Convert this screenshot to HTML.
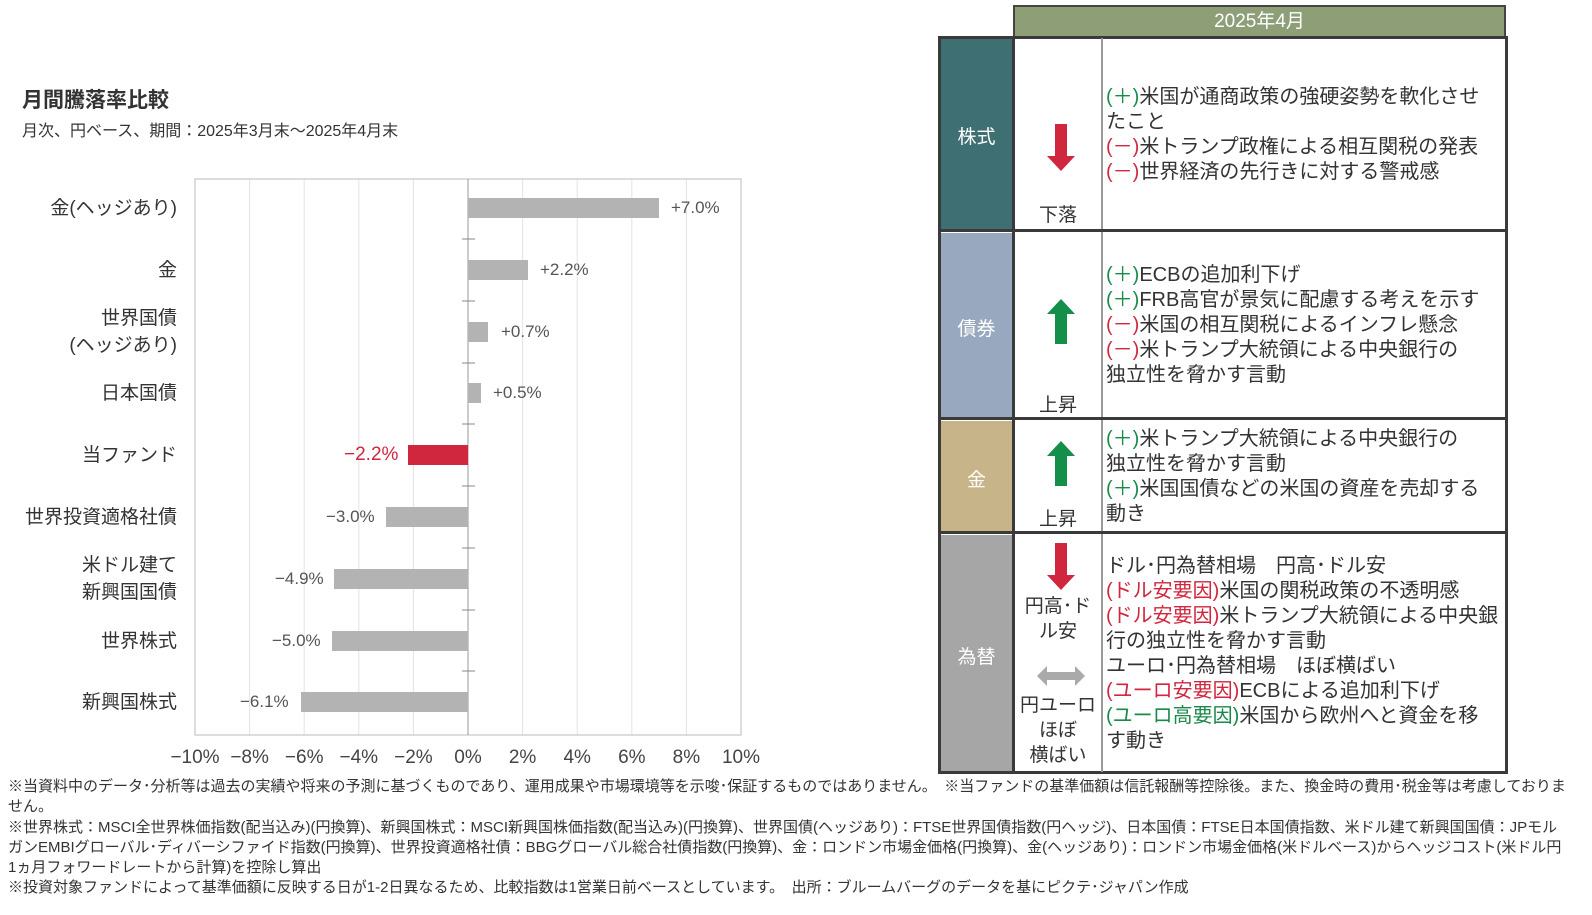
<!DOCTYPE html>
<html><head><meta charset="utf-8"><style>
body{margin:0;width:1592px;height:915px;background:#fff;position:relative;overflow:hidden;font-family:"Liberation Sans","Noto Sans CJK JP",sans-serif;color:#333}
.a{position:absolute;white-space:nowrap}
.lab{position:absolute;right:1415px;font-size:19px;text-align:right;line-height:27px;color:#333;white-space:nowrap}
.v{position:absolute;font-size:17px;color:#555;font-family:"Liberation Sans Narrow","Liberation Sans","Noto Sans CJK JP",sans-serif}
.bar{position:absolute;height:20px;background:#b3b3b3}
.tx{position:absolute;left:1106px;font-size:20px;line-height:25px;color:#333;white-space:nowrap}
.g{color:#1a8a4a}.r{color:#d0263e}
.fn{position:absolute;left:8px;font-size:15px;line-height:20.3px;color:#333;width:1560px}
</style></head><body>
<div class="a" style="left:22px;top:84px;font-size:21px;font-weight:bold;color:#333">月間騰落率比較</div>
<div class="a" style="left:22px;top:117px;font-size:16px">月次、円ベース、期間：2025年3月末～2025年4月末</div>

<svg class="a" style="left:0;top:0" width="780" height="780">
<g stroke="#e3e3e3" stroke-width="1">
<line x1="249.6" y1="179" x2="249.6" y2="735"/><line x1="304.2" y1="179" x2="304.2" y2="735"/><line x1="358.8" y1="179" x2="358.8" y2="735"/><line x1="413.4" y1="179" x2="413.4" y2="735"/><line x1="522.6" y1="179" x2="522.6" y2="735"/><line x1="577.2" y1="179" x2="577.2" y2="735"/><line x1="631.8" y1="179" x2="631.8" y2="735"/><line x1="686.4" y1="179" x2="686.4" y2="735"/>
</g>
<rect x="195" y="179" width="546" height="556" fill="none" stroke="#bbb"/>
<line x1="468" y1="179" x2="468" y2="735" stroke="#999"/>
<g stroke="#888"><line x1="462" y1="239" x2="475" y2="239"/><line x1="462" y1="301" x2="475" y2="301"/><line x1="462" y1="363" x2="475" y2="363"/><line x1="462" y1="424" x2="475" y2="424"/><line x1="462" y1="486" x2="475" y2="486"/><line x1="462" y1="548" x2="475" y2="548"/><line x1="462" y1="610" x2="475" y2="610"/><line x1="462" y1="671" x2="475" y2="671"/></g>
<g font-size="19" fill="#444" text-anchor="middle" font-family="Liberation Sans Narrow,Liberation Sans,sans-serif">
<text x="195" y="763">−10%</text><text x="249.6" y="763">−8%</text><text x="304.2" y="763">−6%</text><text x="358.8" y="763">−4%</text><text x="413.4" y="763">−2%</text><text x="468" y="763">0%</text><text x="522.6" y="763">2%</text><text x="577.2" y="763">4%</text><text x="631.8" y="763">6%</text><text x="686.4" y="763">8%</text><text x="741" y="763">10%</text>
</g>
</svg>

<div class="lab" style="top:195px">金(ヘッジあり)</div>
<div class="lab" style="top:257px">金</div>
<div class="lab" style="top:305px">世界国債<br>(ヘッジあり)</div>
<div class="lab" style="top:380px">日本国債</div>
<div class="lab" style="top:442px">当ファンド</div>
<div class="lab" style="top:504px">世界投資適格社債</div>
<div class="lab" style="top:552px">米ドル建て<br>新興国国債</div>
<div class="lab" style="top:628px">世界株式</div>
<div class="lab" style="top:689px">新興国株式</div>

<div class="bar" style="left:468px;top:198px;width:191px"></div><div class="v" style="left:671px;top:198px">+7.0%</div>
<div class="bar" style="left:468px;top:260px;width:60px"></div><div class="v" style="left:540px;top:260px">+2.2%</div>
<div class="bar" style="left:468px;top:322px;width:20px"></div><div class="v" style="left:501px;top:322px">+0.7%</div>
<div class="bar" style="left:468px;top:383px;width:13px"></div><div class="v" style="left:493px;top:383px">+0.5%</div>
<div class="bar" style="left:408px;top:445px;width:60px;background:#d0263e"></div><div class="v" style="left:344px;top:444px;color:#d0263e;font-size:19px">−2.2%</div>
<div class="bar" style="left:386px;top:507px;width:82px"></div><div class="v" style="left:326px;top:507px">−3.0%</div>
<div class="bar" style="left:334px;top:569px;width:134px"></div><div class="v" style="left:275px;top:569px">−4.9%</div>
<div class="bar" style="left:332px;top:631px;width:136px"></div><div class="v" style="left:272px;top:631px">−5.0%</div>
<div class="bar" style="left:301px;top:692px;width:167px"></div><div class="v" style="left:240px;top:692px">−6.1%</div>

<!-- table -->
<div class="a" style="left:1013px;top:5px;width:493px;height:32px;background:#8e9f78;border:2px solid #444;border-bottom:none;box-sizing:border-box;color:#fff;font-size:19px;text-align:center;line-height:30px">2025年4月</div>
<div class="a" style="left:938px;top:36px;width:570px;height:738px;border:3px solid #3a3a3a;box-sizing:border-box"></div>
<div class="a" style="left:941px;top:39px;width:71px;height:191px;background:#3e6f73"></div>
<div class="a" style="left:941px;top:233px;width:71px;height:185px;background:#97a8bf"></div>
<div class="a" style="left:941px;top:421px;width:71px;height:111px;background:#c8b489"></div>
<div class="a" style="left:941px;top:535px;width:71px;height:236px;background:#a6a6a6"></div>
<div class="a" style="left:1012px;top:36px;width:3px;height:738px;background:#3a3a3a"></div>
<div class="a" style="left:1101px;top:38px;width:2px;height:734px;background:#999"></div>
<div class="a" style="left:938px;top:229px;width:570px;height:3px;background:#3a3a3a"></div>
<div class="a" style="left:938px;top:417px;width:570px;height:3px;background:#3a3a3a"></div>
<div class="a" style="left:938px;top:531px;width:570px;height:3px;background:#3a3a3a"></div>
<div class="a" style="left:941px;top:122px;width:71px;text-align:center;color:#fff;font-size:19px">株式</div>
<div class="a" style="left:941px;top:314px;width:71px;text-align:center;color:#fff;font-size:19px">債券</div>
<div class="a" style="left:941px;top:465px;width:71px;text-align:center;color:#fff;font-size:19px">金</div>
<div class="a" style="left:941px;top:642px;width:71px;text-align:center;color:#fff;font-size:19px">為替</div>

<svg class="a" style="left:1015px;top:38px" width="86" height="734">
<polygon points="40,86 52,86 52,118 60,118 46,133 32,118 40,118" fill="#d0263e"/>
<polygon points="40,306 52,306 52,276 60,276 46,261 32,276 40,276" fill="#138f4a"/>
<polygon points="40,448 52,448 52,418 60,418 46,403 32,418 40,418" fill="#138f4a"/>
<polygon points="40,505 52,505 52,537 60,537 46,552 32,537 40,537" fill="#d0263e"/>
<polygon points="22,638 32,628 32,634 60,634 60,628 70,638 60,648 60,642 32,642 32,648" fill="#aaa"/>
</svg>
<div class="a" style="left:1015px;top:200px;width:86px;text-align:center;font-size:19px">下落</div>
<div class="a" style="left:1015px;top:390px;width:86px;text-align:center;font-size:19px">上昇</div>
<div class="a" style="left:1015px;top:504px;width:86px;text-align:center;font-size:19px">上昇</div>
<div class="a" style="left:1015px;top:594px;width:86px;text-align:center;font-size:19px;line-height:25px;white-space:normal">円高･ド<br>ル安</div>
<div class="a" style="left:1015px;top:693px;width:86px;text-align:center;font-size:19px;line-height:25px">円ユーロ<br>ほぼ<br>横ばい</div>

<div class="tx" style="top:85px"><span class="g">(＋)</span>米国が通商政策の強硬姿勢を軟化させ<br>たこと<br><span class="r">(－)</span>米トランプ政権による相互関税の発表<br><span class="r">(－)</span>世界経済の先行きに対する警戒感</div>
<div class="tx" style="top:263px"><span class="g">(＋)</span>ECBの追加利下げ<br><span class="g">(＋)</span>FRB高官が景気に配慮する考えを示す<br><span class="r">(－)</span>米国の相互関税によるインフレ懸念<br><span class="r">(－)</span>米トランプ大統領による中央銀行の<br>独立性を脅かす言動</div>
<div class="tx" style="top:427px"><span class="g">(＋)</span>米トランプ大統領による中央銀行の<br>独立性を脅かす言動<br><span class="g">(＋)</span>米国国債などの米国の資産を売却する<br>動き</div>
<div class="tx" style="top:554px">ドル･円為替相場　円高･ドル安<br><span class="r">(ドル安要因)</span>米国の関税政策の不透明感<br><span class="r">(ドル安要因)</span>米トランプ大統領による中央銀<br>行の独立性を脅かす言動<br>ユーロ･円為替相場　ほぼ横ばい<br><span class="r">(ユーロ安要因)</span>ECBによる追加利下げ<br><span class="g">(ユーロ高要因)</span>米国から欧州へと資金を移<br>す動き</div>

<div class="fn" style="top:777px">※当資料中のデータ･分析等は過去の実績や将来の予測に基づくものであり、運用成果や市場環境等を示唆･保証するものではありません。　※当ファンドの基準価額は信託報酬等控除後。また、換金時の費用･税金等は考慮しておりません。<br>※世界株式：MSCI全世界株価指数(配当込み)(円換算)、新興国株式：MSCI新興国株価指数(配当込み)(円換算)、世界国債(ヘッジあり)：FTSE世界国債指数(円ヘッジ)、日本国債：FTSE日本国債指数、米ドル建て新興国国債：JPモルガンEMBIグローバル･ディバーシファイド指数(円換算)、世界投資適格社債：BBGグローバル総合社債指数(円換算)、金：ロンドン市場金価格(円換算)、金(ヘッジあり)：ロンドン市場金価格(米ドルベース)からヘッジコスト(米ドル円1ヵ月フォワードレートから計算)を控除し算出<br>※投資対象ファンドによって基準価額に反映する日が1-2日異なるため、比較指数は1営業日前ベースとしています。　出所：ブルームバーグのデータを基にピクテ･ジャパン作成</div>
</body></html>
